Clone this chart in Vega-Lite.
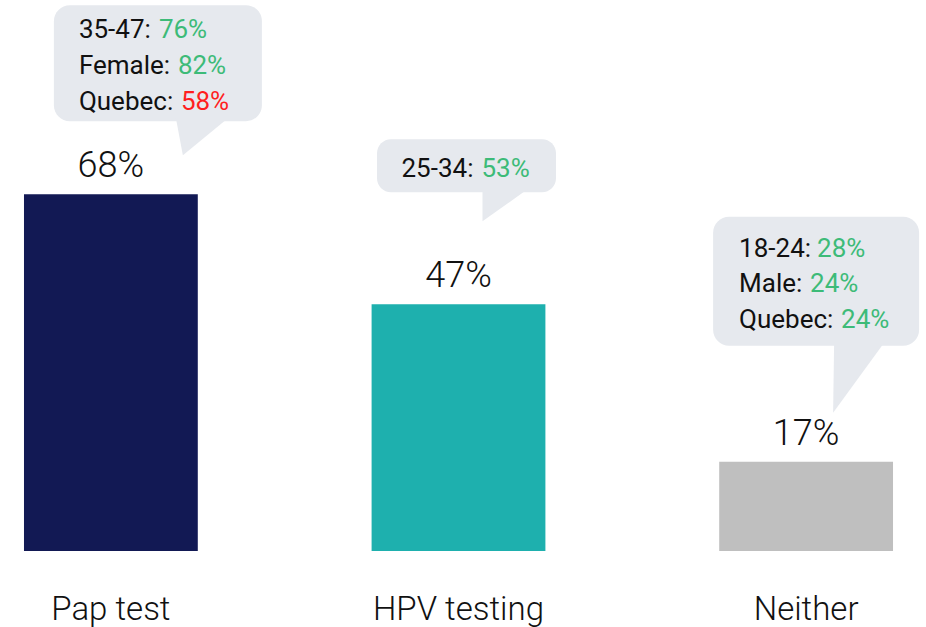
{
  "$schema": "https://vega.github.io/schema/vega-lite/v6.json",
  "width": 917,
  "height": 551,
  "autosize": "none",
  "padding": {"left": 0, "top": 0, "right": 9, "bottom": 76},
  "background": "white",
  "config": {"view": {"stroke": null}, "font": "Roboto"},
  "datasets": {
    "bars": [
      {"test": "Pap test", "pct": 68, "label": "68%"},
      {"test": "HPV testing", "pct": 47, "label": "47%"},
      {"test": "Neither", "pct": 17, "label": "17%"}
    ],
    "callouts": [
      {"test": "Pap test", "pct": 68, "line": 1, "key": "35-47:", "value": "76%", "status": "higher"},
      {"test": "Pap test", "pct": 68, "line": 2, "key": "Female:", "value": "82%", "status": "higher"},
      {"test": "Pap test", "pct": 68, "line": 3, "key": "Quebec:", "value": "58%", "status": "lower"},
      {"test": "HPV testing", "pct": 47, "line": 1, "key": "25-34:", "value": "53%", "status": "higher"},
      {"test": "Neither", "pct": 17, "line": 1, "key": "18-24:", "value": "28%", "status": "higher"},
      {"test": "Neither", "pct": 17, "line": 2, "key": "Male:", "value": "24%", "status": "higher"},
      {"test": "Neither", "pct": 17, "line": 3, "key": "Quebec:", "value": "24%", "status": "higher"}
    ]
  },
  "data": {"name": "bars"},
  "encoding": {
    "x": {
      "field": "test", "type": "nominal", "sort": ["Pap test", "HPV testing", "Neither"],
      "scale": {"paddingInner": 0.5, "paddingOuter": 0.069},
      "axis": {"title": null, "domain": false, "ticks": false, "tickSize": 0, "labelAngle": 0, "labelFontSize": 33, "labelFontWeight": 300, "labelColor": "#111111", "labelPadding": 42, "labelFont": "Roboto"}
    },
    "y": {"field": "pct", "type": "quantitative", "scale": {"domain": [0, 105], "nice": false, "zero": true}, "axis": null}
  },
  "layer": [
    {
      "mark": {"type": "bar"},
      "encoding": {
        "color": {"field": "test", "type": "nominal", "sort": null, "scale": {"domain": ["Pap test", "HPV testing", "Neither"], "range": ["#121954", "#1EB0AE", "#BFBFBF"]}, "legend": null}
      }
    },
    {
      "mark": {"type": "text", "fontSize": 36, "fontWeight": 300, "baseline": "alphabetic", "yOffset": -17, "color": "#111111"},
      "encoding": {"text": {"field": "label"}}
    },
    {
      "transform": [{"filter": {"field": "test", "equal": "Pap test"}}],
      "layer": [
        {"mark": {"type": "bar", "width": 208, "xOffset": 47, "yOffset": -189, "y2Offset": -73, "cornerRadius": 16, "color": "#E6E9EE"},
         "encoding": {"y2": {"field": "pct"}}},
        {"mark": {"type": "point", "shape": "M65,-76 L117,-76 L72,-39 Z", "size": 4, "filled": true, "opacity": 1, "strokeWidth": 0, "color": "#E6E9EE"}, "encoding": {}}
      ]
    },
    {
      "transform": [{"filter": {"field": "test", "equal": "HPV testing"}}],
      "layer": [
        {"mark": {"type": "bar", "width": 179, "xOffset": 8, "yOffset": -165, "y2Offset": -112, "cornerRadius": 14, "color": "#E6E9EE"},
         "encoding": {"y2": {"field": "pct"}}},
        {"mark": {"type": "point", "shape": "M24,-115 L69,-115 L24,-83 Z", "size": 4, "filled": true, "opacity": 1, "strokeWidth": 0, "color": "#E6E9EE"}, "encoding": {}}
      ]
    },
    {
      "transform": [{"filter": {"field": "test", "equal": "Neither"}}],
      "layer": [
        {"mark": {"type": "bar", "width": 206, "xOffset": 10, "yOffset": -245, "y2Offset": -116, "cornerRadius": 16, "color": "#E6E9EE"},
         "encoding": {"y2": {"field": "pct"}}},
        {"mark": {"type": "point", "shape": "M28,-119 L78,-119 L27,-49 Z", "size": 4, "filled": true, "opacity": 1, "strokeWidth": 0, "color": "#E6E9EE"}, "encoding": {}}
      ]
    },
    {
      "data": {"name": "callouts"},
      "transform": [{"filter": "datum.test === 'Pap test' && datum.line === 1"}],
      "layer": [
        {"mark": {"type": "text", "align": "left", "baseline": "alphabetic", "fontSize": 26, "xOffset": -32, "yOffset": -156, "color": "#111111"}, "encoding": {"text": {"field": "key"}}},
        {"mark": {"type": "text", "align": "left", "baseline": "alphabetic", "fontSize": 26, "xOffset": 48, "yOffset": -156}, "encoding": {"text": {"field": "value"}, "fill": {"field": "status", "type": "nominal", "scale": {"domain": ["higher", "lower"], "range": ["#3DBB78", "#FF1F1F"]}, "legend": null}}}
      ]
    },
    {
      "data": {"name": "callouts"},
      "transform": [{"filter": "datum.test === 'Pap test' && datum.line === 2"}],
      "layer": [
        {"mark": {"type": "text", "align": "left", "baseline": "alphabetic", "fontSize": 26, "xOffset": -32, "yOffset": -120, "color": "#111111"}, "encoding": {"text": {"field": "key"}}},
        {"mark": {"type": "text", "align": "left", "baseline": "alphabetic", "fontSize": 26, "xOffset": 67, "yOffset": -120}, "encoding": {"text": {"field": "value"}, "fill": {"field": "status", "type": "nominal", "legend": null}}}
      ]
    },
    {
      "data": {"name": "callouts"},
      "transform": [{"filter": "datum.test === 'Pap test' && datum.line === 3"}],
      "layer": [
        {"mark": {"type": "text", "align": "left", "baseline": "alphabetic", "fontSize": 26, "xOffset": -32, "yOffset": -84, "color": "#111111"}, "encoding": {"text": {"field": "key"}}},
        {"mark": {"type": "text", "align": "left", "baseline": "alphabetic", "fontSize": 26, "xOffset": 70, "yOffset": -84}, "encoding": {"text": {"field": "value"}, "fill": {"field": "status", "type": "nominal", "legend": null}}}
      ]
    },
    {
      "data": {"name": "callouts"},
      "transform": [{"filter": "datum.test === 'HPV testing' && datum.line === 1"}],
      "layer": [
        {"mark": {"type": "text", "align": "left", "baseline": "alphabetic", "fontSize": 26, "xOffset": -57, "yOffset": -127, "color": "#111111"}, "encoding": {"text": {"field": "key"}}},
        {"mark": {"type": "text", "align": "left", "baseline": "alphabetic", "fontSize": 26, "xOffset": 23, "yOffset": -127}, "encoding": {"text": {"field": "value"}, "fill": {"field": "status", "type": "nominal", "legend": null}}}
      ]
    },
    {
      "data": {"name": "callouts"},
      "transform": [{"filter": "datum.test === 'Neither' && datum.line === 1"}],
      "layer": [
        {"mark": {"type": "text", "align": "left", "baseline": "alphabetic", "fontSize": 26, "xOffset": -67, "yOffset": -205, "color": "#111111"}, "encoding": {"text": {"field": "key"}}},
        {"mark": {"type": "text", "align": "left", "baseline": "alphabetic", "fontSize": 26, "xOffset": 11, "yOffset": -205}, "encoding": {"text": {"field": "value"}, "fill": {"field": "status", "type": "nominal", "legend": null}}}
      ]
    },
    {
      "data": {"name": "callouts"},
      "transform": [{"filter": "datum.test === 'Neither' && datum.line === 2"}],
      "layer": [
        {"mark": {"type": "text", "align": "left", "baseline": "alphabetic", "fontSize": 26, "xOffset": -67, "yOffset": -170, "color": "#111111"}, "encoding": {"text": {"field": "key"}}},
        {"mark": {"type": "text", "align": "left", "baseline": "alphabetic", "fontSize": 26, "xOffset": 4, "yOffset": -170}, "encoding": {"text": {"field": "value"}, "fill": {"field": "status", "type": "nominal", "legend": null}}}
      ]
    },
    {
      "data": {"name": "callouts"},
      "transform": [{"filter": "datum.test === 'Neither' && datum.line === 3"}],
      "layer": [
        {"mark": {"type": "text", "align": "left", "baseline": "alphabetic", "fontSize": 26, "xOffset": -67, "yOffset": -134, "color": "#111111"}, "encoding": {"text": {"field": "key"}}},
        {"mark": {"type": "text", "align": "left", "baseline": "alphabetic", "fontSize": 26, "xOffset": 35, "yOffset": -134}, "encoding": {"text": {"field": "value"}, "fill": {"field": "status", "type": "nominal", "legend": null}}}
      ]
    }
  ]
}
